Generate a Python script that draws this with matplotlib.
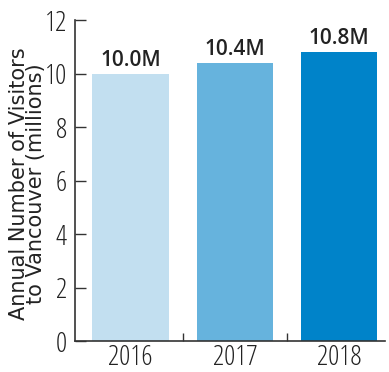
import matplotlib
matplotlib.use("Agg")
import matplotlib.pyplot as plt
from matplotlib.ticker import FixedLocator

years = ["2016", "2017", "2018"]
visitors = [10.0, 10.4, 10.8]
value_labels = ["10.0M", "10.4M", "10.8M"]
colors = ["#c2dff0", "#66b3dd", "#0083c9"]
y_ticks = [0, 2, 4, 6, 8, 10, 12]

fig = plt.figure(figsize=(3.89, 3.72), dpi=100)
ax = fig.add_axes([0.193, 0.083, 0.797, 0.863])

x = range(len(years))
bars = ax.bar(x, visitors, width=0.73, color=colors)

ax.set_xlim(-0.53, 2.44)
ax.set_ylim(0, 12)

tick_font = dict(family="Open Sans", stretch="condensed", weight=300, size=20, color="#222222")
label_font = ["Open Sans", "DejaVu Sans"]

ax.set_yticks(y_ticks)
ax.set_yticklabels([str(t) for t in y_ticks], **tick_font)
ax.set_xticks(list(x))
ax.set_xticklabels(years, **tick_font)
ax.tick_params(axis="x", length=0, pad=2)
ax.tick_params(axis="y", direction="in", length=8, width=1, color="#333333", pad=6)
ax.xaxis.set_minor_locator(FixedLocator([0.5, 1.5]))
ax.tick_params(axis="x", which="minor", direction="in", length=6, width=1, color="#333333")

for side in ["top", "right"]:
    ax.spines[side].set_visible(False)
for side in ["left", "bottom"]:
    ax.spines[side].set_color("#333333")
    ax.spines[side].set_linewidth(1.2)

for bar, lab in zip(bars, value_labels):
    ax.annotate(lab, (bar.get_x() + bar.get_width() / 2, bar.get_height()),
                xytext=(0, 2), textcoords="offset points", ha="center", va="bottom",
                family=label_font, fontsize=15, fontweight=600, color="#222222")

ax.set_ylabel("Annual Number of Visitors\nto Vancouver (millions)", family="DejaVu Sans",
              fontsize=15, color="#222222", linespacing=0.8)
ax.yaxis.set_label_coords(-0.095, 0.49)

fig.savefig("out.png", dpi=100)
